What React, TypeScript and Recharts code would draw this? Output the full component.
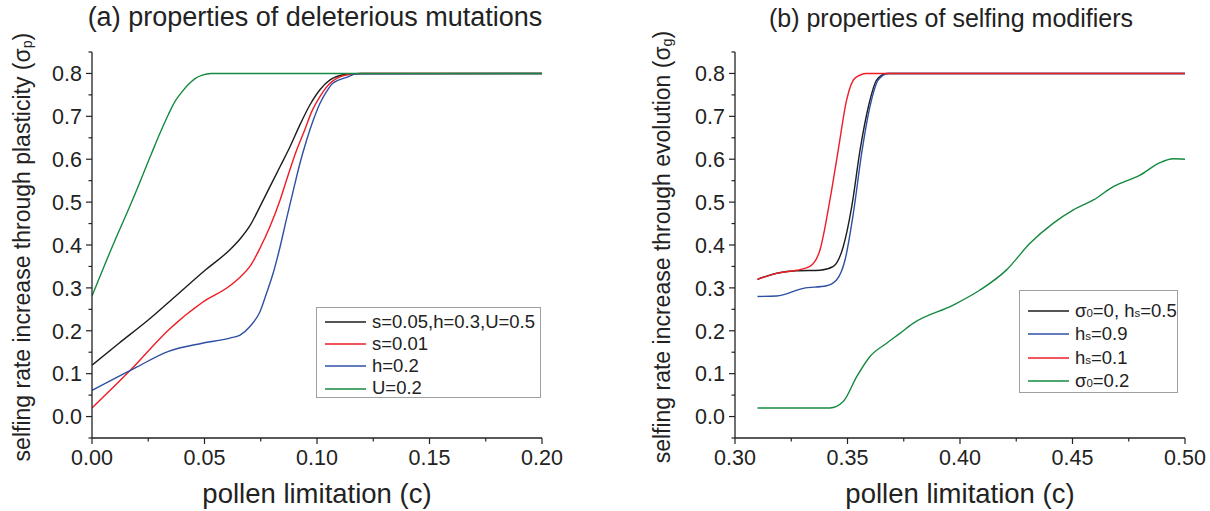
import React from "react";
import { LineChart, Line, XAxis, YAxis, Legend } from "recharts";

// (a) properties of deleterious mutations
const aBaseC = [0, 0.012, 0.025, 0.037, 0.05, 0.0613, 0.0658, 0.0702, 0.0747, 0.0791, 0.0836, 0.088, 0.0924, 0.0969, 0.1013, 0.1058, 0.1132, 0.12, 0.2];
const aBaseV = [0.12, 0.171, 0.225, 0.28, 0.34, 0.389, 0.414, 0.445, 0.49, 0.536, 0.583, 0.629, 0.68, 0.727, 0.762, 0.785, 0.798, 0.8, 0.8];
const aSmallSC = [0, 0.018, 0.034, 0.049, 0.0613, 0.0658, 0.0702, 0.0747, 0.0791, 0.0836, 0.0865, 0.091, 0.094, 0.098, 0.1013, 0.1058, 0.109, 0.1147, 0.12, 0.2];
const aSmallSV = [0.02, 0.113, 0.202, 0.266, 0.305, 0.325, 0.35, 0.393, 0.443, 0.505, 0.552, 0.622, 0.661, 0.715, 0.746, 0.777, 0.789, 0.798, 0.8, 0.8];
const aLowHC = [0, 0.019, 0.034, 0.049, 0.0613, 0.0658, 0.0702, 0.0747, 0.0776, 0.0805, 0.0836, 0.0865, 0.0895, 0.0924, 0.0954, 0.0984, 0.1013, 0.1043, 0.107, 0.1132, 0.1176, 0.2];
const aLowHV = [0.061, 0.113, 0.152, 0.171, 0.183, 0.19, 0.21, 0.245, 0.288, 0.334, 0.396, 0.462, 0.528, 0.59, 0.645, 0.692, 0.73, 0.758, 0.777, 0.791, 0.799, 0.8];
const aLowUC = [0, 0.009, 0.018, 0.0265, 0.03, 0.034, 0.0369, 0.04, 0.0428, 0.0458, 0.049, 0.053, 0.2];
const aLowUV = [0.281, 0.396, 0.505, 0.614, 0.658, 0.705, 0.735, 0.757, 0.774, 0.788, 0.796, 0.8, 0.8];

// (b) properties of selfing modifiers
const bBaseC = [0.31, 0.3185, 0.3274, 0.3378, 0.3437, 0.3481, 0.3519, 0.3556, 0.3593, 0.363, 0.3674, 0.5];
const bBaseV = [0.32, 0.334, 0.34, 0.341, 0.35, 0.396, 0.49, 0.622, 0.723, 0.785, 0.8, 0.8];
const bHighHC = [0.31, 0.3185, 0.3304, 0.3407, 0.3452, 0.3489, 0.3526, 0.3563, 0.36, 0.3637, 0.368, 0.5];
const bHighHV = [0.28, 0.281, 0.299, 0.305, 0.319, 0.365, 0.474, 0.614, 0.723, 0.785, 0.8, 0.8];
const bLowHC = [0.31, 0.3185, 0.3274, 0.3333, 0.3378, 0.3422, 0.3459, 0.3496, 0.3533, 0.3585, 0.5];
const bLowHV = [0.32, 0.334, 0.341, 0.35, 0.389, 0.505, 0.622, 0.738, 0.789, 0.8, 0.8];
const bSigmaC = [0.31, 0.3422, 0.3481, 0.3541, 0.36, 0.3674, 0.3733, 0.3793, 0.397, 0.4089, 0.4207, 0.4311, 0.4415, 0.4504, 0.4593, 0.4681, 0.48, 0.4889, 0.4948, 0.5];
const bSigmaV = [0.02, 0.02, 0.035, 0.093, 0.14, 0.171, 0.194, 0.218, 0.26, 0.295, 0.342, 0.404, 0.451, 0.482, 0.505, 0.536, 0.563, 0.592, 0.601, 0.6];

const yTicks = [-0.05, 0, 0.05, 0.1, 0.15, 0.2, 0.25, 0.3, 0.35, 0.4, 0.45, 0.5, 0.55, 0.6, 0.65, 0.7, 0.75, 0.8, 0.85];
const aXTicks = [0, 0.025, 0.05, 0.075, 0.1, 0.125, 0.15, 0.175, 0.2];
const bXTicks = [0.3, 0.325, 0.35, 0.375, 0.4, 0.425, 0.45, 0.475, 0.5];

const FONT = '"Liberation Sans", Arial, sans-serif';
const INK = "#222";
const BLACK = "#1c1c1c";
const RED = "#ee1c25";
const BLUE = "#2e4fa3";
const GREEN = "#148a40";

const pairs = (c: number[], v: number[]) => c.map((x, i) => ({ c: x, v: v[i] }));

const seriesA = [
  { name: "s=0.05,h=0.3,U=0.5", color: BLACK, data: pairs(aBaseC, aBaseV) },
  { name: "s=0.01", color: RED, data: pairs(aSmallSC, aSmallSV) },
  { name: "h=0.2", color: BLUE, data: pairs(aLowHC, aLowHV) },
  { name: "U=0.2", color: GREEN, data: pairs(aLowUC, aLowUV) },
];

const seriesB = [
  { name: "σ_0=0, h_s=0.5", color: BLACK, data: pairs(bBaseC, bBaseV) },
  { name: "h_s=0.9", color: BLUE, data: pairs(bHighHC, bHighHV) },
  { name: "h_s=0.1", color: RED, data: pairs(bLowHC, bLowHV) },
  { name: "σ_0=0.2", color: GREEN, data: pairs(bSigmaC, bSigmaV) },
];

// "_x" -> small subscript x
const withSubs = (s: string, shift = "0") =>
  s.split(/(_.)/).map((part, i) =>
    part.startsWith("_") ? (
      <span key={i} style={{ fontSize: "0.62em", verticalAlign: shift }}>
        {part.slice(1)}
      </span>
    ) : (
      <React.Fragment key={i}>{part}</React.Fragment>
    )
  );

const isMajor = (v: number, step: number) => Math.abs(v / step - Math.round(v / step)) < 1e-6;

const YTick = (p: any) => {
  const { x, y, payload } = p;
  const v = payload.value as number;
  const major = isMajor(v, 0.1);
  return (
    <g>
      <line x1={x - (major ? 6 : 3.5)} x2={x} y1={y} y2={y} stroke={INK} strokeWidth={1.2} />
      {major && (
        <text x={x - 10} y={y} dy="0.36em" textAnchor="end" fontFamily={FONT} fontSize={21.5} fill={INK}>
          {v.toFixed(1)}
        </text>
      )}
    </g>
  );
};

const XTick = (p: any) => {
  const { x, y, payload } = p;
  const v = payload.value as number;
  const major = isMajor(v, 0.05);
  return (
    <g>
      <line x1={x} x2={x} y1={y} y2={y + (major ? 6 : 3.5)} stroke={INK} strokeWidth={1.2} />
      {major && (
        <text x={x} y={y + 27} textAnchor="middle" fontFamily={FONT} fontSize={21.5} fill={INK}>
          {v.toFixed(2)}
        </text>
      )}
    </g>
  );
};

const LegendBox = ({ items, w, h, pad, rowH }: any) => (
  <div
    style={{
      width: w,
      height: h,
      boxSizing: "border-box",
      border: "1px solid #a0a0a0",
      background: "#fff",
      paddingTop: pad,
      fontFamily: FONT,
      fontSize: 18.5,
      color: INK,
    }}
  >
    {items.map((it: any) => (
      <div key={it.name} style={{ display: "flex", alignItems: "center", height: rowH }}>
        <svg width={41} height={4} style={{ marginLeft: 8, display: "block" }}>
          <line x1={0} x2={41} y1={2} y2={2} stroke={it.color} strokeWidth={1.6} />
        </svg>
        <span style={{ marginLeft: 6, lineHeight: 1, whiteSpace: "nowrap" }}>{withSubs(it.name)}</span>
      </div>
    ))}
  </div>
);

const Panel = ({ series, xDomain, xTicks, margin, width, legend }: any) => (
  <LineChart width={width} height={511} margin={margin}>
    <XAxis
      type="number"
      dataKey="c"
      domain={xDomain}
      ticks={xTicks}
      interval={0}
      allowDataOverflow
      height={30}
      tickSize={0}
      tickMargin={0}
      tickLine={false}
      axisLine={{ stroke: INK, strokeWidth: 1.3 }}
      tick={(p: any) => <XTick {...p} />}
    />
    <YAxis
      type="number"
      domain={[-0.05, 0.85]}
      ticks={yTicks}
      interval={0}
      allowDataOverflow
      width={60}
      tickSize={0}
      tickMargin={0}
      tickLine={false}
      axisLine={{ stroke: INK, strokeWidth: 1.3 }}
      tick={(p: any) => <YTick {...p} />}
    />
    <Legend
      layout="vertical"
      align="center"
      verticalAlign="middle"
      wrapperStyle={{ left: legend.left, top: legend.top }}
      content={() => <LegendBox items={series} {...legend} />}
    />
    {series.map((s: any) => (
      <Line
        key={s.name}
        data={s.data}
        dataKey="v"
        name={s.name}
        type="monotone"
        stroke={s.color}
        strokeWidth={1.4}
        dot={false}
        activeDot={false}
        isAnimationActive={false}
      />
    ))}
  </LineChart>
);

const textBox = (cx: number, top: number, size: number, w = 600): React.CSSProperties => ({
  position: "absolute",
  left: cx - w / 2,
  top,
  width: w,
  textAlign: "center",
  fontFamily: FONT,
  fontSize: size,
  lineHeight: `${size}px`,
  color: INK,
  whiteSpace: "nowrap",
});

const yLabel = (cx: number, cy: number): React.CSSProperties => ({
  ...textBox(cx, cy - 11.5, 23, 520),
  transform: "rotate(-90deg)",
});

export default function App() {
  return (
    <div style={{ position: "absolute", left: 0, top: 0, width: 1210, height: 511, background: "#fff", overflow: "hidden" }}>
      <div style={{ position: "absolute", left: 0, top: 0 }}>
        <Panel
          series={seriesA}
          xDomain={[0, 0.2]}
          xTicks={aXTicks}
          width={600}
          margin={{ top: 52, right: 58, bottom: 43, left: 32 }}
          legend={{ left: 316, top: 307, w: 225, h: 91, pad: 3, rowH: 22.2 }}
        />
      </div>
      <div style={{ position: "absolute", left: 605, top: 0 }}>
        <Panel
          series={seriesB}
          xDomain={[0.3, 0.5]}
          xTicks={bXTicks}
          width={605}
          margin={{ top: 52, right: 25, bottom: 43, left: 70 }}
          legend={{ left: 414, top: 290, w: 159, h: 103, pad: 8, rowH: 23.5 }}
        />
      </div>

      <div style={textBox(315, 4, 27)}>(a) properties of deleterious mutations</div>
      <div style={textBox(951, 6, 25)}>(b) properties of selfing modifiers</div>
      <div style={textBox(317, 480, 27.5)}>pollen limitation (c)</div>
      <div style={textBox(960, 480, 27.5)}>pollen limitation (c)</div>
      <div style={yLabel(25, 244)}>selfing rate increase through plasticity ({withSubs("σ_p", "-0.15em")})</div>
      <div style={yLabel(665, 244)}>selfing rate increase through evolution ({withSubs("σ_g", "-0.15em")})</div>
    </div>
  );
}
